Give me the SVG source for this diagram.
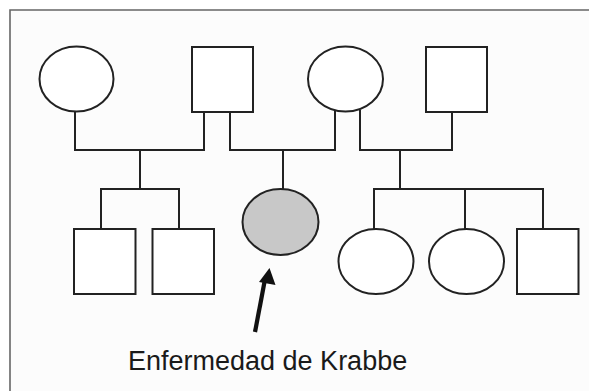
<svg xmlns="http://www.w3.org/2000/svg" width="589" height="391" viewBox="0 0 589 391">
<style>
.n{fill:#ffffff;stroke:#222;stroke-width:2}
.a{fill:#c8c8c8;stroke:#222;stroke-width:2}
.c{fill:none;stroke:#222;stroke-width:2}
.lbl{font-family:"Liberation Sans",Arial,sans-serif;font-size:27px;fill:#1a1a1a}
</style>
<rect x="0" y="0" width="589" height="391" fill="#ffffff"/>
<rect x="10" y="10" width="579" height="381" fill="#fcfcfc"/>
<path d="M10,391 V10 H589" fill="none" stroke="#666" stroke-width="1.6"/>
<g id="connectors">
<path class="c" d="M75,111 V150 H204 V112"/>
<path class="c" d="M140,150 V189 M101,229 V189 H179 V229"/>
<path class="c" d="M230,112 V150 H335 V110"/>
<path class="c" d="M283,150 V189"/>
<path class="c" d="M360,110 V150 H452 V112"/>
<path class="c" d="M400,150 V189 M374,229 V189 H543 V229 M465,189 V229"/>
</g>
<g id="gf1"><ellipse class="n" cx="76.5" cy="79" rx="37" ry="32.5"/></g>
<g id="gm1"><rect class="n" x="192" y="47" width="61" height="65"/></g>
<g id="gf2"><ellipse class="n" cx="345.5" cy="79" rx="37.5" ry="32.5"/></g>
<g id="gm2"><rect class="n" x="426" y="47" width="61" height="65"/></g>
<g id="c1"><rect class="n" x="74" y="229" width="61.5" height="65"/></g>
<g id="c2"><rect class="n" x="152.5" y="229" width="61.5" height="65"/></g>
<g id="affected"><ellipse class="a" cx="280.5" cy="222" rx="38" ry="33"/></g>
<g id="c3"><ellipse class="n" cx="376" cy="261.5" rx="37.5" ry="32.5"/></g>
<g id="c4"><ellipse class="n" cx="466.5" cy="261.5" rx="37.5" ry="32.5"/></g>
<g id="c5"><rect class="n" x="517" y="229" width="61.5" height="65"/></g>
<g id="arrow">
<line x1="255" y1="332" x2="264.5" y2="282" stroke="#111" stroke-width="4.2"/>
<polygon points="269.5,268 275.5,285 259,282" fill="#111"/>
</g>
<text class="lbl" x="128" y="370">Enfermedad de Krabbe</text>
</svg>
